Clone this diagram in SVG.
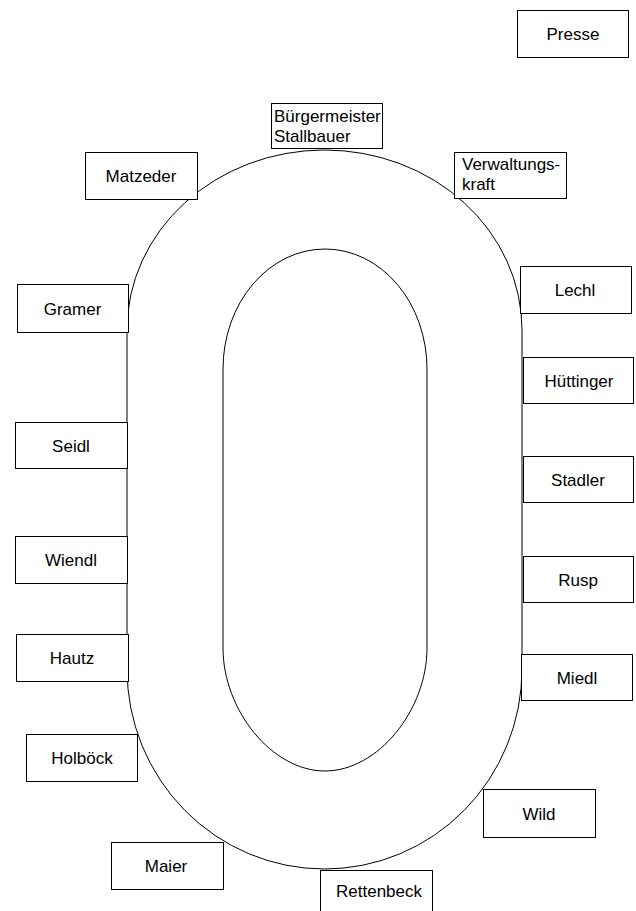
<svg xmlns="http://www.w3.org/2000/svg" width="636" height="911" viewBox="0 0 636 911">
<style>
.t{fill:none;stroke:#000;stroke-width:1}
.b{fill:#fff;stroke:#000;stroke-width:1}
text{font-family:"Liberation Sans",Arial,sans-serif;font-size:17px;fill:#000}
.c{text-anchor:middle}
</style>
<rect width="636" height="911" fill="#fff"/>
<g id="table">
<path class="t" d="M127 330 A197.5 180 0 0 1 522 330 L522 669 A197.5 200 0 0 1 127 669 Z"/>
<path class="t" d="M223 369 A102 120 0 0 1 427 369 L427 648 C427 710 378 771 325 771 C272 771 223 710 223 648 Z"/>
</g>
<g id="presse"><rect class="b" x="517.5" y="10.5" width="111" height="47"/><text class="c" x="573" y="40">Presse</text></g>
<g id="buergermeister"><rect class="b" x="271.5" y="103.5" width="111" height="45"/><text x="274" y="122">Bürgermeister</text><text x="274" y="142">Stallbauer</text></g>
<g id="verwaltungskraft"><rect class="b" x="454.5" y="152.5" width="112" height="46"/><text x="462" y="170">Verwaltungs-</text><text x="462" y="190">kraft</text></g>
<g id="matzeder"><rect class="b" x="85.5" y="152.5" width="112" height="47"/><text class="c" x="141" y="182">Matzeder</text></g>
<g id="gramer"><rect class="b" x="17.5" y="284.5" width="111" height="48"/><text class="c" x="72.5" y="315">Gramer</text></g>
<g id="lechl"><rect class="b" x="520.5" y="266.5" width="111" height="47"/><text class="c" x="575" y="296">Lechl</text></g>
<g id="huettinger"><rect class="b" x="523.5" y="357.5" width="110" height="46"/><text class="c" x="579" y="387">Hüttinger</text></g>
<g id="stadler"><rect class="b" x="523.5" y="456.5" width="110" height="46"/><text class="c" x="578" y="486">Stadler</text></g>
<g id="rusp"><rect class="b" x="523.5" y="556.5" width="110" height="46"/><text class="c" x="578" y="586">Rusp</text></g>
<g id="miedl"><rect class="b" x="521.5" y="654.5" width="111" height="46"/><text class="c" x="577" y="684">Miedl</text></g>
<g id="wild"><rect class="b" x="483.5" y="789.5" width="112" height="48"/><text class="c" x="539" y="820">Wild</text></g>
<g id="rettenbeck"><rect class="b" x="320.5" y="870.5" width="112" height="47"/><text class="c" x="379" y="897">Rettenbeck</text></g>
<g id="maier"><rect class="b" x="111.5" y="842.5" width="112" height="47"/><text class="c" x="166" y="872">Maier</text></g>
<g id="holboeck"><rect class="b" x="26.5" y="734.5" width="111" height="47"/><text class="c" x="82" y="764">Holböck</text></g>
<g id="hautz"><rect class="b" x="16.5" y="634.5" width="112" height="47"/><text class="c" x="72" y="664">Hautz</text></g>
<g id="wiendl"><rect class="b" x="15.5" y="536.5" width="112" height="47"/><text class="c" x="71" y="566">Wiendl</text></g>
<g id="seidl"><rect class="b" x="15.5" y="422.5" width="112" height="46"/><text class="c" x="71" y="452">Seidl</text></g>
</svg>
